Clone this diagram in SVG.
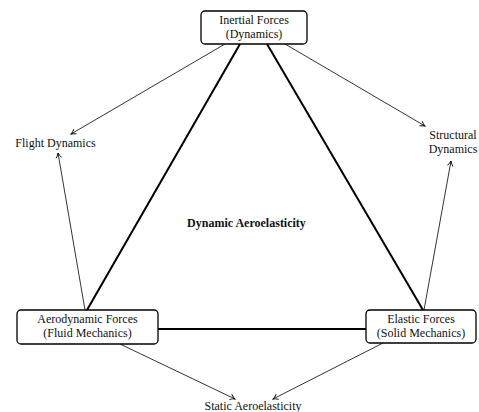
<svg xmlns="http://www.w3.org/2000/svg" width="479" height="412" viewBox="0 0 479 412">
<style>
  text { font-family: "Liberation Serif", "DejaVu Serif", serif; font-size: 12px; fill: #111; text-anchor: middle; }
  .box { fill: #fff; stroke: #000; stroke-width: 1.3; }
  .thick { stroke: #000; stroke-width: 2; fill: none; }
  .thin { stroke: #000; stroke-width: 0.8; fill: none; marker-end: url(#arr); }
  .bold { font-weight: bold; }
</style>
<defs>
  <marker id="arr" markerUnits="userSpaceOnUse" markerWidth="8" markerHeight="8" refX="6" refY="4" orient="auto">
    <path d="M1,1.2 Q3.5,3.2 6,4 Q3.5,4.8 1,6.8" fill="none" stroke="#000" stroke-width="0.9"/>
  </marker>
</defs>
<g id="connectors">
  <line class="thick" x1="240" y1="44" x2="87" y2="310"/>
  <line class="thick" x1="267" y1="44" x2="423" y2="310"/>
  <line class="thick" x1="158" y1="329" x2="366" y2="329"/>
  <line class="thin" x1="225" y1="44" x2="71" y2="134"/>
  <line class="thin" x1="285" y1="44" x2="425" y2="126"/>
  <line class="thin" x1="85" y1="310" x2="58" y2="153"/>
  <line class="thin" x1="424" y1="310" x2="451" y2="161"/>
  <line class="thin" x1="120" y1="344" x2="235" y2="399"/>
  <line class="thin" x1="383" y1="343" x2="273" y2="399"/>
</g>
<g id="inertial">
  <rect class="box" x="201" y="11" width="106" height="33" rx="4"/>
  <text x="254" y="24">Inertial Forces</text>
  <text x="254" y="38">(Dynamics)</text>
</g>
<g id="aero">
  <rect class="box" x="17" y="310" width="141" height="34" rx="4"/>
  <text x="87.5" y="323">Aerodynamic Forces</text>
  <text x="87.5" y="337">(Fluid Mechanics)</text>
</g>
<g id="elastic">
  <rect class="box" x="366" y="310" width="110" height="33" rx="4"/>
  <text x="421" y="323">Elastic Forces</text>
  <text x="421" y="337">(Solid Mechanics)</text>
</g>
<g id="flight">
  <text x="55.5" y="147">Flight Dynamics</text>
</g>
<g id="structural">
  <text x="453" y="139">Structural</text>
  <text x="453" y="153">Dynamics</text>
</g>
<g id="dynamic">
  <text class="bold" x="246.5" y="227">Dynamic Aeroelasticity</text>
</g>
<g id="static">
  <text x="253" y="410">Static Aeroelasticity</text>
</g>
</svg>
